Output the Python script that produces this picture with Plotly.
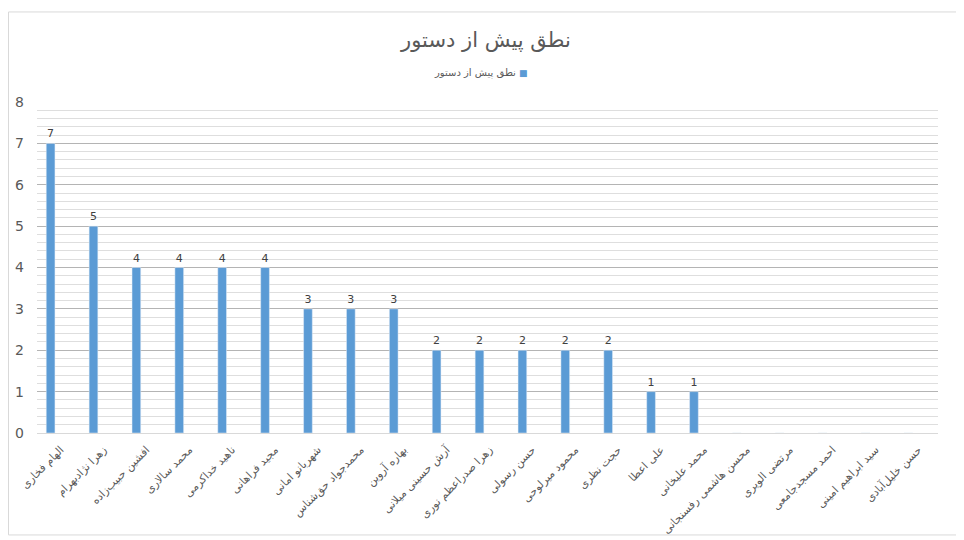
import plotly.graph_objects as go

# speakers and number of pre-agenda speeches
speakers = [
    "الهام فخاری", "زهرا نژادبهرام", "افشین حبیب‌زاده", "محمد سالاری",
    "ناهید خداکرمی", "مجید فراهانی", "شهربانو امانی", "محمدجواد حق‌شناس",
    "بهاره آروین", "آرش حسینی میلانی", "زهرا صدراعظم نوری", "حسن رسولی",
    "محمود میرلوحی", "حجت نظری", "علی اعطا", "محمد علیخانی",
    "محسن هاشمی رفسنجانی", "مرتضی الویری", "احمد مسجدجامعی",
    "سید ابراهیم امینی", "حسن خلیل‌آبادی",
]
speeches = [7, 5, 4, 4, 4, 4, 3, 3, 3, 2, 2, 2, 2, 2, 1, 1, 0, 0, 0, 0, 0]
series_name = "نطق پیش از دستور"
bar_color = "#5b9bd5"

bar_text = [str(v) if v > 0 else "" for v in speeches]

fig = go.Figure()
fig.add_trace(go.Bar(
    x=speakers,
    y=speeches,
    name=series_name,
    marker_color=bar_color,
    text=bar_text,
    textposition="outside",
    textfont=dict(size=11, color="#404040"),
    cliponaxis=False,
    showlegend=False,
))

# page has an 8px body margin, so the figure is sized to fit the window
fig.update_layout(
    width=956,
    height=532,
    paper_bgcolor="white",
    plot_bgcolor="white",
    font=dict(family="DejaVu Sans, Noto Sans", color="#595959"),
    title=dict(text=series_name, x=0.5, xanchor="center", y=0.94, yanchor="middle",
               font=dict(size=21, color="#595959")),
    bargap=0.797,
    margin=dict(l=29, r=26, t=94, b=107),
)

# legend drawn RTL style: text first, then the colour swatch on the right
fig.add_annotation(
    text=series_name + " <span style='color:%s;font-size:9px'>■</span>" % bar_color,
    xref="paper", yref="paper", x=0.493, y=1.0876,
    xanchor="center", yanchor="middle", showarrow=False,
    font=dict(size=10, color="#595959"),
)

fig.update_xaxes(
    range=[-0.317, 20.69],
    tickangle=-45,
    tickfont=dict(size=11, color="#595959"),
    showline=True, linecolor="#d9d9d9",
    ticks="",
    ticklabelshift=10,
    ticklabelstandoff=5,
    automargin=False,
)
fig.update_yaxes(
    range=[0, 8],
    dtick=1,
    tickfont=dict(size=14, color="#595959"),
    showgrid=True, gridcolor="#b4b4b4", gridwidth=1,
    minor=dict(dtick=0.2, showgrid=True, gridcolor="#dedede", gridwidth=1),
    zeroline=False,
    ticks="",
    ticklabelstandoff=12,
    automargin=False,
)

# outer chart border
fig.add_shape(type="rect", xref="paper", yref="paper",
              x0=-0.0316, x1=1.0222, y0=-0.308, y1=1.272,
              line=dict(color="#d9d9d9", width=1), layer="below")

fig.write_html("out.html")
